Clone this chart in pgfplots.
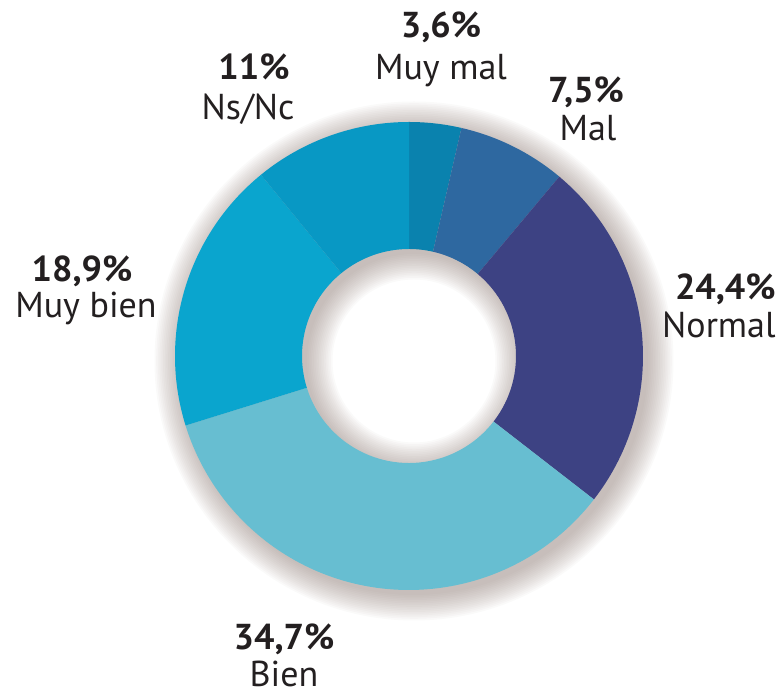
\documentclass[border=0pt]{standalone}
\usepackage{pgfplots}
\pgfplotsset{compat=1.18}
\usepackage{fontspec}
\setmainfont{PT Sans}
\usetikzlibrary{calc}

\definecolor{cmuymal}{HTML}{0A82AE}
\definecolor{cmal}{HTML}{2E68A0}
\definecolor{cnormal}{HTML}{3D4283}
\definecolor{cbien}{HTML}{67BED1}
\definecolor{cmuybien}{HTML}{0AA5CE}
\definecolor{cnsnc}{HTML}{0898C4}
\definecolor{shadowc}{HTML}{7E6A62}
\definecolor{txt}{HTML}{231F20}

% donut geometry (axis units = pt)
\def\cx{204.5}
\def\cy{170}
\def\ro{117}
\def\ri{53.5}

% slice: start share (%), end share (%), colour
\newcommand{\slice}[3]{%
  \fill[#3] ($(axis cs:\cx,\cy)+({90-3.6*#1}:\ro)$)
    arc[start angle={90-3.6*#1}, end angle={90-3.6*#2}, radius=\ro]
    -- ($(axis cs:\cx,\cy)+({90-3.6*#2}:\ri)$)
    arc[start angle={90-3.6*#2}, end angle={90-3.6*#1}, radius=\ri]
    -- cycle;}

\begin{document}
\begin{tikzpicture}
  \begin{axis}[
      x=1pt, y=1pt, scale only axis,
      xmin=0, xmax=392, ymin=0, ymax=348,
      hide axis, clip=false,
    ]
    \path (axis cs:0,0) rectangle (axis cs:392,348);
    % soft shadow of the ring, offset to the lower right
    \pgfplotsinvokeforeach{0,...,15}{
      \fill[shadowc, opacity=0.035, even odd rule]
        (axis cs:207,167.5) circle[radius={\ro+0.85*#1}]
        (axis cs:207,167.5) circle[radius={\ri-0.85*#1}];
    }
    % shares: 3.6, 7.5, 24.4, 34.7, 18.9, 11
    \slice{0}{3.6}{cmuymal}
    \slice{3.6}{11.1}{cmal}
    \slice{11.1}{35.5}{cnormal}
    \slice{35.5}{70.2}{cbien}
    \slice{70.2}{89.1}{cmuybien}
    \slice{89.1}{100}{cnsnc}

    \begin{scope}[every node/.style={text=txt, font=\fontsize{18}{21}\selectfont, inner sep=0pt}]
      \node[anchor=base] at (axis cs:220.5,329) {\bfseries 3,6\%};
      \node[anchor=base] at (axis cs:220.5,308) {Muy mal};
      \node[anchor=base] at (axis cs:293,296.5) {\bfseries 7,5\%};
      \node[anchor=base] at (axis cs:294,277.5) {Mal};
      \node[anchor=base] at (axis cs:127,308) {\bfseries 11\%};
      \node[anchor=base] at (axis cs:124,288) {Ns/Nc};
      \node[anchor=base] at (axis cs:41,207) {\bfseries 18,9\%};
      \node[anchor=base] at (axis cs:43,189) {Muy bien};
      \node[anchor=base east] at (axis cs:388,198) {\bfseries 24,4\%};
      \node[anchor=base east] at (axis cs:388,179) {Normal};
      \node[anchor=base] at (axis cs:142,23) {\bfseries 34,7\%};
      \node[anchor=base] at (axis cs:142,4.5) {Bien};
    \end{scope}
  \end{axis}
\end{tikzpicture}
\end{document}
